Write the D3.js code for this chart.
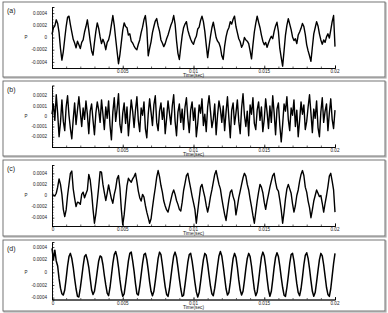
<!DOCTYPE html>
<html><head><meta charset="utf-8">
<script src="https://cdn.jsdelivr.net/npm/d3@7"></script>
<style>body{margin:0;background:#fff}svg{display:block}</style>
</head><body>
<svg id="chart" width="388" height="313"></svg>
<script>
// ---- data (pressure in units of 1e-4, sampled every timeStep seconds) ----
const timeStep = 0.0001;
const panelLabels = ["(a)", "(b)", "(c)", "(d)"];
const xTickValues = [0.005, 0.01, 0.015, 0.02];
const xTickLabels = ["0.005", "0.01", "0.015", "0.02"];
const yTickValuesWide = [0.0004, 0.0002, 0, -0.0002, -0.0004];
const yTickLabelsWide = ["0.0004", "0.0002", "0", "-0.0002", "-0.0004"];
const yTickValuesNarrow = [0.0002, 0.0001, 0, -0.0001, -0.0002];
const yTickLabelsNarrow = ["0.0002", "0.0001", "0", "-0.0001", "-0.0002"];

const seriesA = [
 0.5, 1.6, 1.9, 2.9, 2.3, 0.8, -1.8, -3.7, -2.3, -0.2,
 1.8, 3.3, 3.5, 2.1, 0.9, -0.3, -0.9, -1.7, -0.6, -1.2,
 -1.8, -0.8, -0.4, 0.9, 1.8, 2.9, 1.2, -0.6, -2.2, -2.9,
 -0.8, 1.0, 2.4, 1.5, 0.1, -1.0, -0.3, -0.9, -2.0, -0.8,
 -0.4, 0.6, 2.1, 3.6, 2.0, -0.2, -2.3, -4.3, -2.8, -0.8,
 1.2, 2.4, 1.8, 1.6, 0.4, 0.6, -0.6, -0.9, -1.4, -1.8,
 -2.0, -1.1, -0.4, 0.8, 1.7, 2.9, 3.6, 1.5, -3.0, -1.8,
 -0.7, 0.8, 1.8, 2.7, 3.1, 1.9, 1.0, -0.4, -0.9, -1.5,
 -1.0, -0.2, 0.4, 1.2, 2.0, 2.6, 3.6, 2.2, -0.5, -2.6,
 -3.6, -1.6, 0.3, 1.6, 2.2, 2.6, 1.2, 0.4, -0.3, -0.8,
 -1.1, -0.3, 0.2, 1.4, 1.7, 2.8, 3.5, 2.6, 1.0, -1.2,
 -3.3, -1.5, 0.2, 1.6, 2.5, 1.3, 0.0, -0.6, -0.9, -1.6,
 -3.0, -3.6, -1.4, 0.1, 1.1, 1.6, 2.6, 2.2, 3.0, 3.5,
 1.8, 0.8, -0.2, -0.7, -1.6, -1.1, 0.0, -0.4, -0.6, -1.0,
 -2.2, -3.5, -1.2, 0.9, 2.3, 3.5, 2.5, 1.6, 0.4, -0.6,
 -1.2, -0.8, -1.6, -0.9, -0.3, 0.2, -0.2, 1.0, 1.9, 2.5,
 1.0, -1.8, -3.3, -4.7, -2.2, 0.4, 2.0, 3.1, 2.2, 1.3,
 0.1, -0.5, -0.2, -1.0, 0.4, 0.9, 1.5, 2.3, 1.8, 0.5,
 -1.2, -2.2, -3.0, -3.9, -1.6, 0.6, 1.6, 2.6, 1.9, 0.6,
 -0.4, -1.1, -0.4, -0.8, 0.1, 0.6, -0.1, 1.2, 2.6, 3.6,
 -1.5];
const seriesB = [
 0.2, 1.2, -0.4, 2.1, 0.3, -2.0, -0.6, 1.6, -0.5, -1.4,
 0.9, 2.0, 0.1, -1.2, -2.2, -0.3, 1.3, -0.8, 0.6, 1.9,
 0.4, -1.0, 0.8, -0.3, 1.5, 0.2, -1.7, 0.5, 1.2, -0.4,
 -1.8, 0.3, 1.4, 0.6, -0.6, 1.6, 0.2, -1.3, 0.9, -0.2,
 1.5, -0.9, -2.3, 0.4, 1.8, -0.5, 0.7, 2.2, -0.8, -1.6,
 0.3, 1.3, -0.7, 0.9, -1.9, -0.2, 1.6, 0.5, -1.1, 0.6,
 1.9, -0.4, -1.5, 0.8, 0.1, 1.4, -1.2, -2.1, 0.2, 1.7,
 0.4, -0.9, 1.1, 2.0, -0.6, -1.4, 0.5, 1.3, -0.3, 0.8,
 -1.7, -0.2, 1.5, 0.3, -0.8, 1.0, 2.1, -0.5, -1.9, 0.4,
 1.2, -0.6, 0.7, -1.3, 0.9, 1.8, -0.2, -1.6, 0.6, 1.4,
 -0.4, 0.8, -2.0, -0.7, 1.1, 0.3, 1.7, -0.9, 0.2, -1.5,
 0.9, 2.0, 0.5, -1.1, -0.3, 1.2, -1.8, 0.1, 1.5, 0.7,
 -0.6, 1.0, -1.4, 0.4, 1.9, -0.2, -2.1, 0.6, 1.3, -0.8,
 0.3, 1.6, -0.5, -1.7, 0.8, 2.2, 0.1, -1.0, 0.5, -1.9,
 1.1, 0.2, 1.8, -0.7, -1.3, 0.6, 1.4, -0.4, 0.9, -1.5,
 -0.3, 1.7, 0.4, -1.2, 1.0, -0.6, 2.0, 0.3, -1.8, 0.7,
 1.3, -0.9, -2.5, -0.8, 1.2, 0.5, 1.9, -0.3, -1.4, 0.8,
 0.1, 1.6, -1.0, 0.6, -2.0, -0.4, 1.4, 0.2, 1.1, -1.3,
 -0.5, 0.9, 2.1, 0.3, -1.6, 0.7, -0.2, 1.5, -1.1, -2.0,
 0.4, 1.8, -0.6, 0.5, 1.2, -1.4, 0.3, 1.7, -0.3, -1.2,
 0.6];
const seriesC = [
 0, 0.1, -0.1, 0.4, 1.5, 3.0, 2.0, 0.2, -2.5, -3.8,
 -2.6, 0.0, 2.0, 4.0, 4.4, 1.2, -0.5, -2.0, -1.2, -1.3,
 -1.6, 0.2, 0.6, -0.4, 0.3, 1.0, 3.8, 2.8, 0.5, -2.5,
 -5.0, -3.3, -1.0, 1.5, 4.3, 4.2, 2.0, 0.5, -0.9, 0.4,
 1.9, 0.6, -0.6, -1.4, 0.2, 1.3, 3.0, 3.6, 1.4, -2.5,
 -5.3, -3.5, -0.8, 1.8, 3.1, 2.7, 2.4, 3.0, 3.4, 4.0,
 2.5, 0.8, -0.4, -1.0, 0.2, -0.3, -1.8, -3.0, -4.0, -5.0,
 -4.2, -2.2, -0.3, 1.4, 3.3, 4.5, 3.4, 1.8, 0.6, -1.0,
 -1.9, -2.6, -3.0, -1.9, -0.8, 0.3, 1.0, 0.2, -0.9, -1.6,
 -2.5, -2.8, -1.2, 0.9, 2.2, 3.6, 4.0, 2.6, 1.3, -0.1,
 -1.3, -2.5, -5.0, -2.8, -0.6, 1.5, 2.0, 0.8, -0.3, -1.8,
 -3.0, -1.8, -0.2, 1.0, 2.4, 3.8, 4.5, 3.2, 2.0, 1.2,
 -0.5, -2.0, -3.4, -4.5, -2.6, -0.8, 0.6, 1.0, -0.2, -1.0,
 -3.5, -2.0, -0.4, 0.8, 2.0, 3.2, 4.0, 3.5, 2.0, 1.0,
 -0.6, -2.0, -3.6, -5.0, -3.0, -1.0, 0.6, 2.0, 1.5, 0.5,
 -1.2, -2.5, -1.0, 0.2, 1.5, 2.6, 3.6, 4.0, 2.4, 1.2,
 0.8, -0.8, -2.6, -5.0, -3.0, -0.6, 1.2, 2.0, 1.2, 0.4,
 -1.5, -3.0, -1.8, 0.0, 1.0, 2.6, 3.8, 4.5, 3.6, 1.5,
 0.6, -1.0, -2.2, -4.0, -2.6, -1.0, 0.0, 1.0, 0.4, -0.2,
 0.0, -1.4, -3.0, -1.4, 0.0, 1.6, 3.5, 4.0, 2.6, 1.0,
 -3.0];
const seriesD = [
 3.8, 2.0, 3.5, 1.8, 1.0, -1.0, -2.5, -3.4, -3.6, -2.8,
 -1.0, 1.0, 2.5, 3.0, 2.2, 0.8, -1.0, -2.6, -3.8, -3.9,
 -2.5, -0.8, 1.0, 2.5, 2.8, 2.0, 0.8, -1.0, -2.8, -3.5,
 -3.0, -1.5, 0.2, 1.8, 2.6, 2.4, 1.2, -0.5, -2.0, -3.3,
 -3.7, -2.4, -0.5, 1.4, 2.8, 3.3, 2.4, 0.8, -1.2, -2.8,
 -3.8, -3.4, -1.8, 0.0, 1.8, 3.0, 3.2, 1.8, 0.2, -1.8,
 -3.4, -3.6, -2.2, -0.4, 1.4, 2.8, 3.0, 2.0, 0.4, -1.5,
 -3.0, -3.7, -3.0, -1.4, 0.4, 2.2, 3.2, 2.8, 1.2, -0.6,
 -2.3, -3.5, -3.8, -2.6, -0.8, 1.0, 2.6, 3.2, 2.4, 0.8,
 -1.0, -2.6, -3.8, -3.6, -2.0, -0.2, 1.6, 2.8, 3.0, 1.8,
 0.2, -1.6, -3.1, -3.9, -3.2, -1.5, 0.3, 2.0, 3.0, 2.7,
 1.3, -0.5, -2.2, -3.4, -3.7, -2.5, -0.8, 1.0, 2.6, 3.3,
 2.6, 1.0, -0.8, -2.6, -3.6, -3.2, -1.6, 0.4, 2.2, 3.0,
 2.4, 0.8, -1.2, -2.8, -3.6, -3.0, -1.3, 0.6, 2.2, 3.0,
 2.5, 1.0, -0.9, -2.7, -3.7, -3.1, -1.4, 0.6, 2.4, 3.2,
 2.6, 1.0, -1.0, -2.8, -3.8, -3.0, -1.2, 0.8, 2.4, 3.1,
 2.5, 1.0, -0.8, -2.4, -3.6, -3.8, -2.4, -0.6, 1.4, 2.8,
 3.0, 1.8, 0.0, -1.8, -3.2, -3.7, -2.6, -0.8, 1.2, 2.7,
 3.1, 2.2, 0.6, -1.3, -3.0, -3.8, -3.2, -1.5, 0.3, 2.0,
 3.0, 2.6, 1.2, -0.6, -2.4, -3.5, -3.8, -2.6, -0.6, 1.4,
 3.0];

// ---- layout ----
const layout = [
  {series: seriesA, ticks: yTickValuesWide, tickLabels: yTickLabelsWide, domain: [-0.0005, 0.0005], box: [2, 77], plot: [7, 68], origin0: false, sw: 1.4},
  {series: seriesB, ticks: yTickValuesNarrow, tickLabels: yTickLabelsNarrow, domain: [-0.0003, 0.0003], box: [81, 156], plot: [85.5, 147], origin0: false, sw: 1.4},
  {series: seriesC, ticks: yTickValuesWide, tickLabels: yTickLabelsWide, domain: [-0.00055, 0.00055], box: [160, 236], plot: [165, 226], origin0: true, sw: 1.4},
  {series: seriesD, ticks: yTickValuesWide, tickLabels: yTickLabelsWide, domain: [-0.00043, 0.00048], box: [240, 311], plot: [242, 299.5], origin0: true, sw: 1.5}
];
const plotLeft = 52, plotRight = 335;
const boxLeft = 3, boxRight = 385;

const svg = d3.select("#chart");
const x = d3.scaleLinear().domain([0, 0.02]).range([plotLeft, plotRight]);
const font = "Liberation Sans, Arial, sans-serif";

layout.forEach((p, i) => {
  const g = svg.append("g");
  g.append("rect").attr("x", boxLeft + 1).attr("y", p.box[0] + 1)
    .attr("width", boxRight - boxLeft).attr("height", p.box[1] - p.box[0])
    .attr("fill", "none").attr("stroke", "#b0b0b0").attr("stroke-width", 1.2);
  g.append("rect").attr("x", boxLeft).attr("y", p.box[0])
    .attr("width", boxRight - boxLeft).attr("height", p.box[1] - p.box[0])
    .attr("fill", "#fff").attr("stroke", "#666").attr("stroke-width", 0.9);

  const y = d3.scaleLinear().domain(p.domain).range([p.plot[1], p.plot[0]]);

  g.append("text").attr("x", 7).attr("y", p.box[0] + 11)
    .attr("font-family", font).attr("font-size", 7).attr("fill", "#222").text(panelLabels[i]);
  g.append("text").attr("x", 26).attr("y", y(0) + 1.8)
    .attr("font-family", font).attr("font-size", 4.5).attr("fill", "#222").attr("text-anchor", "middle").text("P");

  const step = (p.ticks[0] - p.ticks[1]) / 4;
  const yMinor = d3.range(Math.ceil(p.domain[0] / step), Math.floor(p.domain[1] / step) + 1).map(k => k * step);
  const gaxes = [];
  gaxes.push(g.append("g").attr("transform", `translate(${plotLeft},0)`).call(d3.axisRight(y).tickValues(yMinor).tickSize(1.5).tickFormat("")));
  gaxes.push(g.append("g").attr("transform", `translate(${plotLeft},0)`).call(d3.axisRight(y).tickValues(p.ticks).tickSize(2.5).tickFormat("")));
  p.ticks.forEach((v, k) => {
    g.append("text").attr("x", 47).attr("y", y(v) + 1.7).attr("text-anchor", "end")
      .attr("font-family", font).attr("font-size", 4.6).attr("fill", "#222").text(p.tickLabels[k]);
  });

  const xMinor = d3.range(0, 21).map(k => k * 0.001);
  gaxes.push(g.append("g").attr("transform", `translate(0,${p.plot[1]})`).call(d3.axisTop(x).tickValues(xMinor).tickSize(1.5).tickFormat("")));
  gaxes.push(g.append("g").attr("transform", `translate(0,${p.plot[1]})`).call(d3.axisTop(x).tickValues(xTickValues).tickSize(2.5).tickFormat("")));
  gaxes.forEach(s => { s.selectAll("path").attr("stroke", "#000").attr("stroke-width", 0.8); s.selectAll("line").attr("stroke", "#000").attr("stroke-width", 0.6); });
  xTickValues.forEach((v, k) => {
    g.append("text").attr("x", x(v)).attr("y", p.plot[1] + 5).attr("text-anchor", "middle")
      .attr("font-family", font).attr("font-size", 4.6).attr("fill", "#222").text(xTickLabels[k]);
  });
  if (p.origin0) {
    g.append("text").attr("x", x(0) + 1).attr("y", p.plot[1] + 5).attr("text-anchor", "middle")
      .attr("font-family", font).attr("font-size", 4.6).attr("fill", "#222").text("0");
  }
  g.append("text").attr("x", x(0.01)).attr("y", p.plot[1] + 9).attr("text-anchor", "middle")
    .attr("font-family", font).attr("font-size", 4.8).attr("fill", "#222").text("Time(sec)");

  const line = d3.line().x((d, k) => x(k * timeStep)).y(d => y(d * 1e-4));
  g.append("path").datum(p.series).attr("d", line)
    .attr("fill", "none").attr("stroke", "#000").attr("stroke-width", p.sw).attr("stroke-linejoin", "round");
});
</script>
</body></html>
